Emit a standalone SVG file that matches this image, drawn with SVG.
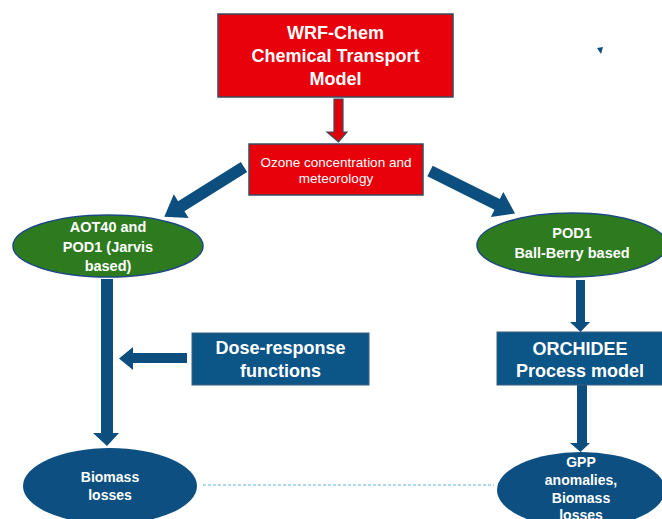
<svg xmlns="http://www.w3.org/2000/svg" width="662" height="519" viewBox="0 0 662 519">
<style>
.t{font-family:"Liberation Sans",Arial,sans-serif;fill:#fff;text-anchor:middle;dominant-baseline:central}
.b{font-weight:bold}
.red{fill:#e8000b;stroke:#3a4a5c;stroke-width:1.5}
.blue{fill:#0c5587;stroke:#3d5f7e;stroke-width:1}
.green{fill:#2e7a1f;stroke:#1d4a82;stroke-width:1.5}
.arr{fill:#0c4f7f}
</style>
<rect width="662" height="519" fill="#fff"/>
<g id="connectors">
<polygon points="334,99 343,99 343,132 347,132 338.5,142 327,132 334,132" fill="#e0000a" stroke="#3a4a5c" stroke-width="1.2"/>
<polygon class="arr" transform="translate(244,167) rotate(148)" points="0,-6 74,-6 74,-14 94,0 74,14 74,6 0,6"/>
<polygon class="arr" transform="translate(430,171) rotate(26.5)" points="0,-6 75,-6 75,-14 95,0 75,14 75,6 0,6"/>
<polygon class="arr" points="101,279 113,279 113,433 119,433 107,446 93,433 101,433"/>
<polygon class="arr" points="187,353 133,353 133,347 119,358.5 133,370 133,363 187,363"/>
<polygon class="arr" points="576,280 585,280 585,322 590,322 580.5,332 570,322 576,322"/>
<polygon class="arr" points="577,385 587,385 587,443 590,443 580.5,452 570,443 577,443"/>
<line x1="203" y1="485" x2="494" y2="485" stroke="#5ab0e0" stroke-width="1" stroke-dasharray="3,2"/>
<polygon class="arr" points="597,48 603,47 601,54"/>
</g>
<g id="wrf">
<rect class="red" x="218" y="14" width="235" height="83"/>
<text class="t b" x="335.5" y="33" font-size="18">WRF-Chem</text>
<text class="t b" x="335.5" y="56" font-size="18">Chemical Transport</text>
<text class="t b" x="335.5" y="79" font-size="18">Model</text>
</g>
<g id="ozone">
<rect class="red" x="249" y="144" width="174" height="51"/>
<text class="t" x="336" y="162" font-size="13.5">Ozone concentration and</text>
<text class="t" x="336" y="178" font-size="13.5">meteorology</text>
</g>
<g id="aot40">
<ellipse class="green" cx="108" cy="246" rx="95" ry="31"/>
<text class="t b" x="108" y="227" font-size="14.5">AOT40 and</text>
<text class="t b" x="108" y="247" font-size="14.5">POD1 (Jarvis</text>
<text class="t b" x="108" y="266" font-size="14.5">based)</text>
</g>
<g id="pod1">
<ellipse class="green" cx="572" cy="245" rx="95" ry="32"/>
<text class="t b" x="572" y="233" font-size="14.5">POD1</text>
<text class="t b" x="572" y="253" font-size="14.5">Ball-Berry based</text>
</g>
<g id="dose">
<rect class="blue" x="192" y="333" width="177" height="52"/>
<text class="t b" x="280.5" y="348" font-size="18">Dose-response</text>
<text class="t b" x="280.5" y="371" font-size="18">functions</text>
</g>
<g id="orchidee">
<rect class="blue" x="497" y="332" width="166" height="53"/>
<text class="t b" x="580" y="349" font-size="18">ORCHIDEE</text>
<text class="t b" x="580" y="371" font-size="18">Process model</text>
</g>
<g id="biomass">
<ellipse cx="110" cy="486" rx="87" ry="38" fill="#0c4f80"/>
<text class="t b" x="110" y="477" font-size="14">Biomass</text>
<text class="t b" x="110" y="495" font-size="14">losses</text>
</g>
<g id="gpp">
<ellipse cx="581" cy="490" rx="84" ry="38" fill="#0c4f80"/>
<text class="t b" x="581" y="462" font-size="14">GPP</text>
<text class="t b" x="581" y="480" font-size="14">anomalies,</text>
<text class="t b" x="581" y="498" font-size="14">Biomass</text>
<text class="t b" x="581" y="515" font-size="14">losses</text>
</g>
</svg>
